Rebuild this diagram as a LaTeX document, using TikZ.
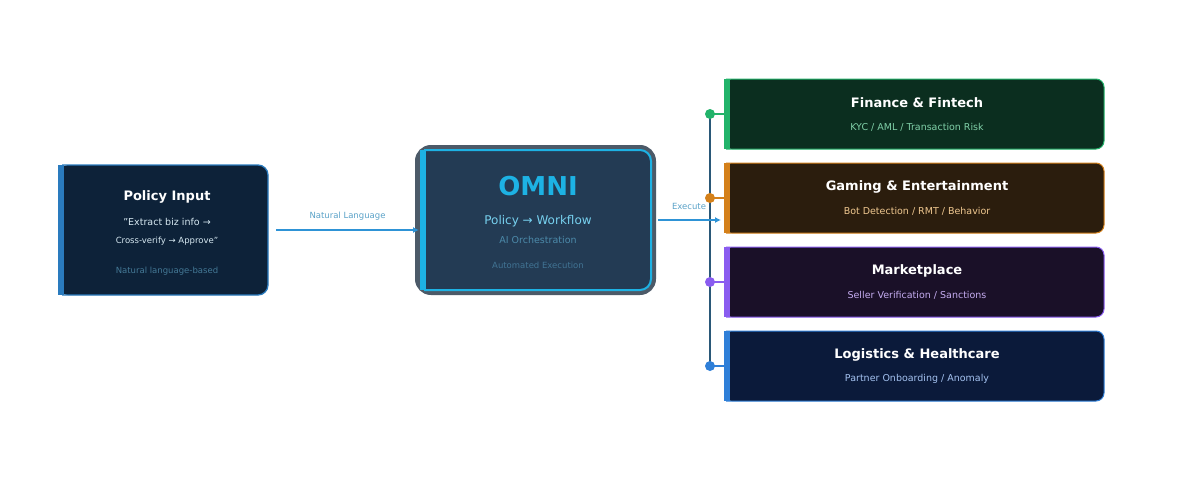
\documentclass[tikz,border=0pt]{standalone}
\usepackage{fontspec}
\setmainfont{DejaVu Sans}
\usetikzlibrary{arrows.meta}
\definecolor{pfill}{HTML}{0D2239}\definecolor{pbord}{HTML}{2A7BBE}
\definecolor{ofill}{HTML}{233B54}\definecolor{ocyan}{HTML}{1DB2E4}\definecolor{ogray}{HTML}{4C5A68}
\definecolor{arr}{HTML}{2E93D6}\definecolor{lbl}{HTML}{5AA2C8}\definecolor{bus}{HTML}{2A5878}
\definecolor{fF}{HTML}{0B2E1F}\definecolor{fB}{HTML}{22B36A}\definecolor{fS}{HTML}{80D0A8}
\definecolor{gF}{HTML}{2B1D0D}\definecolor{gB}{HTML}{D4801A}\definecolor{gS}{HTML}{F0C890}
\definecolor{mF}{HTML}{1A1028}\definecolor{mB}{HTML}{8A5CF0}\definecolor{mS}{HTML}{C4ACF0}
\definecolor{lF}{HTML}{0B1A3A}\definecolor{lB}{HTML}{2F7FD8}\definecolor{lS}{HTML}{A4C2F0}
\tikzset{
 ttl/.style={font=\bfseries\fontsize{13}{13}\selectfont,text=white},
 sml/.style={font=\fontsize{9.5}{10}\selectfont},
 conn/.style={draw=arr,line width=2.2pt,-{Latex[length=6pt,width=6pt]}},
 dot/.style={circle,inner sep=0pt,minimum size=10pt},
}
\newcommand{\dom}[6]{% y, fill, border, sub, title, subtext
 \fill[#2,rounded corners=8pt] (724,#1) rectangle (1104,#1+70);
 \draw[#3,line width=1pt,rounded corners=8pt] (726,#1) -- (1104,#1) -- (1104,#1+70) -- (726,#1+70);
 \fill[#3] (724,#1) rectangle (730,#1+70);
 \node[ttl] at (917,#1+24) {#5};
 \node[sml,text=#4] at (917,#1+48) {#6};
}
\begin{document}
\begin{tikzpicture}[x=1pt,y=-1pt]
\fill[white] (0,0) rectangle (1200,480);
% policy
\fill[pfill,rounded corners=10pt] (58,165) rectangle (268,295);
\draw[pbord,line width=1.3pt,rounded corners=10pt] (62,165) -- (268,165) -- (268,295) -- (62,295);
\fill[pbord] (58,165) rectangle (64,295);
\node[ttl] (pi) at (167,197) {Policy Input};
\node[sml,text=white!75!lbl] at (167,222) {"Extract biz info →};
\node[sml,font=\fontsize{8.5}{9}\selectfont,text=white!75!lbl] at (167,241) {Cross-verify → Approve"};
\node[sml,font=\fontsize{8.5}{9}\selectfont,text=lbl!75!black] at (167,271) {Natural language-based};
\coordinate (pr) at (276,230);
% omni
\draw[ogray,line width=4pt,fill=ogray,rounded corners=14pt] (417,147) rectangle (654,293);
\fill[ofill,rounded corners=11pt] (420,150) rectangle (651,290);
\draw[ocyan,line width=2pt,rounded corners=11pt] (424,150) -- (651,150) -- (651,290) -- (424,290);
\fill[ocyan] (420,150) rectangle (426,290);
\node[font=\bfseries\fontsize{26}{26}\selectfont,text=ocyan] (om) at (538,186) {OMNI};
\node[font=\fontsize{12}{12}\selectfont,text=ocyan!60!white] at (538,221) {Policy → Workflow};
\node[sml,text=lbl!85!black] at (538,240) {AI Orchestration};
\node[font=\fontsize{8.5}{9}\selectfont,text=lbl!55!ofill] at (538,265) {Automated Execution};
\coordinate (ol) at (419,230);
\coordinate (orr) at (658,220);
\coordinate (ex) at (721,220);
\draw[conn] (pr) -- (ol) node[midway,above=5pt,font=\fontsize{8.5}{9}\selectfont,text=lbl] {Natural Language};
% bus
\coordinate (b1) at (710,114);\coordinate (b4) at (710,366);
\draw[bus,line width=2pt] (b1) -- (b4);
\draw[conn] (orr) -- (ex);
\node[font=\fontsize{8.5}{9}\selectfont,text=lbl] at (689,206) {Execute};
\foreach \y/\c in {114/fB,198/gB,282/mB,366/lB}{
 \draw[\c,line width=1.5pt] (710,\y) -- (724,\y);
 \node[dot,fill=\c] at (710,\y) {};
}
\dom{79}{fF}{fB}{fS}{Finance \& Fintech}{KYC / AML / Transaction Risk}
\dom{163}{gF}{gB}{gS}{Gaming \& Entertainment}{Bot Detection / RMT / Behavior}
\dom{247}{mF}{mB}{mS}{Marketplace}{Seller Verification / Sanctions}
\dom{331}{lF}{lB}{lS}{Logistics \& Healthcare}{Partner Onboarding / Anomaly}
\end{tikzpicture}
\end{document}
